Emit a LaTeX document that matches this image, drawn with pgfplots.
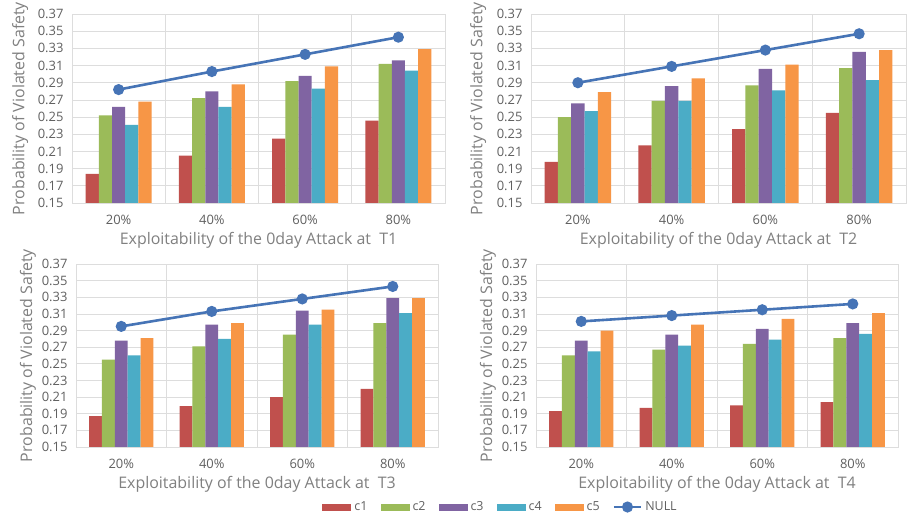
\documentclass[border=0pt]{standalone}
\usepackage{fontspec}
\setmainfont{Open Sans}
\usepackage{pgfplots}
\usepackage{pgfplotstable}
\pgfplotsset{compat=1.18}
\definecolor{cA}{HTML}{C0504D}
\definecolor{cB}{HTML}{9BBB59}
\definecolor{cC}{HTML}{8064A2}
\definecolor{cD}{HTML}{4BACC6}
\definecolor{cE}{HTML}{F79646}
\definecolor{cN}{HTML}{4674B6}
\definecolor{gridc}{HTML}{DDDDDD}
\definecolor{tickc}{HTML}{606060}
\definecolor{labc}{HTML}{808080}

\pgfplotstableread{
x c1 c2 c3 c4 c5 null
0 0.184 0.252 0.262 0.241 0.268 0.282
1 0.205 0.272 0.280 0.262 0.288 0.303
2 0.225 0.292 0.298 0.283 0.309 0.323
3 0.246 0.312 0.316 0.304 0.329 0.343
}\tA
\pgfplotstableread{
x c1 c2 c3 c4 c5 null
0 0.198 0.250 0.266 0.257 0.279 0.290
1 0.217 0.269 0.286 0.269 0.295 0.309
2 0.236 0.287 0.306 0.281 0.311 0.328
3 0.255 0.307 0.326 0.293 0.328 0.347
}\tB
\pgfplotstableread{
x c1 c2 c3 c4 c5 null
0 0.187 0.255 0.278 0.260 0.281 0.295
1 0.199 0.271 0.297 0.280 0.299 0.313
2 0.210 0.285 0.314 0.297 0.315 0.328
3 0.220 0.299 0.329 0.311 0.329 0.343
}\tC
\pgfplotstableread{
x c1 c2 c3 c4 c5 null
0 0.193 0.260 0.278 0.265 0.290 0.301
1 0.197 0.267 0.285 0.272 0.297 0.308
2 0.200 0.274 0.292 0.279 0.304 0.315
3 0.204 0.281 0.299 0.286 0.311 0.322
}\tD

\pgfplotsset{
  panel/.style={
    scale only axis, anchor=south west,
    xmin=-0.5, xmax=3.5, ymin=0.15, ymax=0.37,
    ytick={0.15,0.17,0.19,0.21,0.23,0.25,0.27,0.29,0.31,0.33,0.35,0.37},
    xtick={0,1,2,3}, xticklabels={20\%,40\%,60\%,80\%},
    minor xtick={0.5,1.5,2.5},
    xminorgrids=true, ymajorgrids=true,
    major grid style={draw=gridc, line width=0.8bp},
    minor grid style={draw=gridc, line width=0.8bp},
    axis line style={draw=gridc, line width=0.8bp},
    major tick length=0pt, minor tick length=0pt,
    tick label style={font=\fontsize{13}{13}\selectfont, text=tickc},
    xticklabel style={yshift=-9bp},
    yticklabel style={xshift=-5bp},
    /pgf/number format/assume math mode=true,
    yticklabel style={/pgf/number format/.cd, fixed, fixed zerofill, precision=2},
    label style={font=\fontsize{16}{16}\selectfont, text=labc},
    ylabel={Probability of Violated Safety},
    ylabel style={at={(axis description cs:#1,0.5)}, anchor=center},
    clip=true,
  },
  bb/.style={ybar, bar width=0.142, draw=none, fill=#1,
    legend image code/.code={\fill[#1] (0bp,-3.5bp) rectangle (29bp,3.5bp);}},
  nl/.style={color=cN, line width=2.6bp, mark=*, mark size=4.2bp, mark options={solid},
    legend image code/.code={\draw[cN, line width=2.6bp] (0bp,0bp) -- (27bp,0bp);
      \fill[cN] (13.5bp,0bp) circle (4.2bp);}},
}

\newcommand{\plotall}[1]{%
  \addplot[bb=cA, bar shift=-0.284] table[x=x,y=c1]{#1};
  \addplot[bb=cB, bar shift=-0.142] table[x=x,y=c2]{#1};
  \addplot[bb=cC, bar shift=0] table[x=x,y=c3]{#1};
  \addplot[bb=cD, bar shift=0.142] table[x=x,y=c4]{#1};
  \addplot[bb=cE, bar shift=0.284] table[x=x,y=c5]{#1};
  \addplot[nl] table[x=x,y=null]{#1};
}

\begin{document}
\begin{tikzpicture}
\useasboundingbox[fill=white] (0,0) rectangle (915bp,517bp);
\begin{axis}[panel=-0.139, at={(72bp,314bp)}, width=373bp, height=189bp,
  xlabel={Exploitability of the 0day Attack at~~T1}]
\plotall{\tA}
\end{axis}
\begin{axis}[panel=-0.141, at={(531bp,314bp)}, width=375bp, height=189bp,
  xlabel={Exploitability of the 0day Attack at~~T2}]
\plotall{\tB}
\end{axis}
\begin{axis}[panel=-0.133, at={(76bp,70bp)}, width=362bp, height=183bp,
  xlabel={Exploitability of the 0day Attack at~~T3},
  legend columns=6,
  legend style={draw=none, fill=none, at={(0.672,-0.328)}, anchor=west,
    font=\fontsize{12.5}{12.5}\selectfont, text=tickc,
    nodes={inner xsep=3bp},
    /tikz/every even column/.append style={column sep=10bp}}]
\plotall{\tC}
\legend{c1,c2,c3,c4,c5,NULL}
\end{axis}
\begin{axis}[panel=-0.133, at={(536bp,70bp)}, width=362bp, height=183bp,
  xlabel={Exploitability of the 0day Attack at~~T4}]
\plotall{\tD}
\end{axis}
\end{tikzpicture}
\end{document}
